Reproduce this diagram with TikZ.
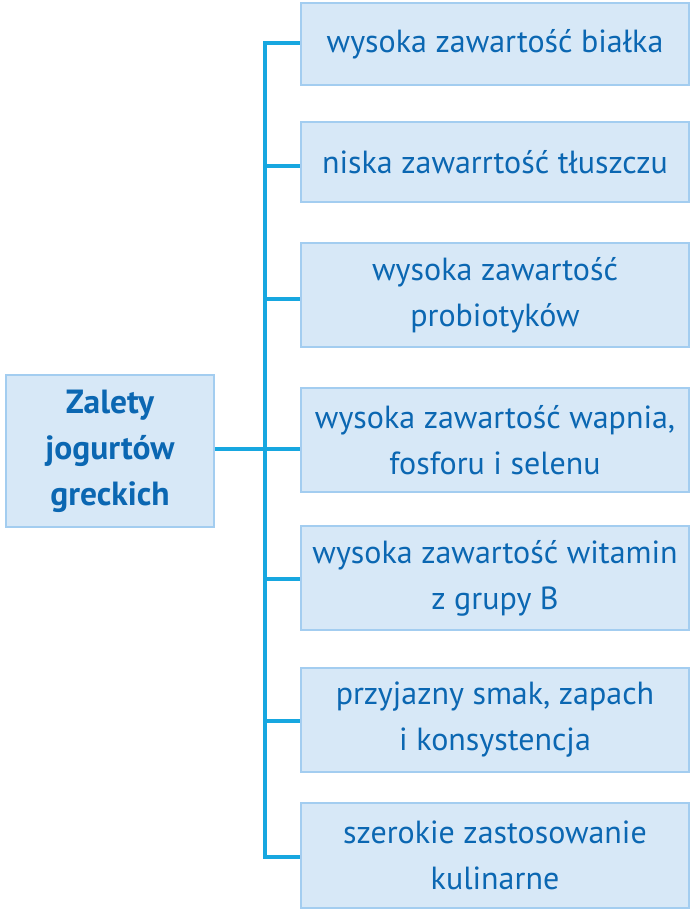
\documentclass[tikz,border=0pt]{standalone}
\usepackage{fontspec}
\setmainfont{PT Sans}
\definecolor{boxfill}{HTML}{D7E8F7}
\definecolor{boxline}{HTML}{A3CDF0}
\definecolor{txtblue}{HTML}{0B67B2}
\definecolor{linkblue}{HTML}{17A7E0}
\begin{document}
\begin{tikzpicture}[x=1pt,y=-1pt,
  itembox/.style={draw=boxline, line width=1.6pt, fill=boxfill, text=txtblue,
    align=center, minimum width=388pt, inner sep=0pt,
    font=\fontsize{32}{46}\selectfont},
  rootbox/.style={draw=boxline, line width=1.6pt, fill=boxfill, text=txtblue,
    align=center, minimum width=208pt, minimum height=152pt, inner sep=0pt,
    font=\fontsize{33.5}{46}\selectfont\bfseries},
  link/.style={draw=linkblue, line width=3.6pt}]
\useasboundingbox (0,0) rectangle (696,912);
\node[rootbox] (root) at (110,451) {Zalety\\jogurtów\\greckich};
\node[itembox, minimum height=82pt] (b1) at (495,44) {wysoka zawartość białka};
\node[itembox, minimum height=80pt] (b2) at (495,162) {niska zawarrtość tłuszczu};
\node[itembox, minimum height=104pt] (b3) at (495,295) {wysoka zawartość\\probiotyków};
\node[itembox, minimum height=104pt] (b4) at (495,440) {wysoka zawartość wapnia,\\fosforu i selenu};
\node[itembox, minimum height=104pt] (b5) at (495,578) {wysoka zawartość witamin\\z grupy B};
\node[itembox, minimum height=104pt] (b6) at (495,720) {przyjazny smak, zapach\\i konsystencja};
\node[itembox, minimum height=105pt] (b7) at (495,855.5) {szerokie zastosowanie\\kulinarne};
\coordinate (t1) at (265,43);
\coordinate (t2) at (265,166);
\coordinate (t3) at (265,299);
\coordinate (t4) at (265,449);
\coordinate (t5) at (265,579);
\coordinate (t6) at (265,721);
\coordinate (t7) at (265,857);
\draw[link, line cap=rect] (t1) -- (t7);
\draw[link] (t1) -- (t1 -| b1.west);
\draw[link] (t2) -- (t2 -| b2.west);
\draw[link] (t3) -- (t3 -| b3.west);
\draw[link] (t4) -- (t4 -| b4.west);
\draw[link] (t5) -- (t5 -| b5.west);
\draw[link] (t6) -- (t6 -| b6.west);
\draw[link] (t7) -- (t7 -| b7.west);
\draw[link] (root.east |- t4) -- (t4);
\end{tikzpicture}
\end{document}
